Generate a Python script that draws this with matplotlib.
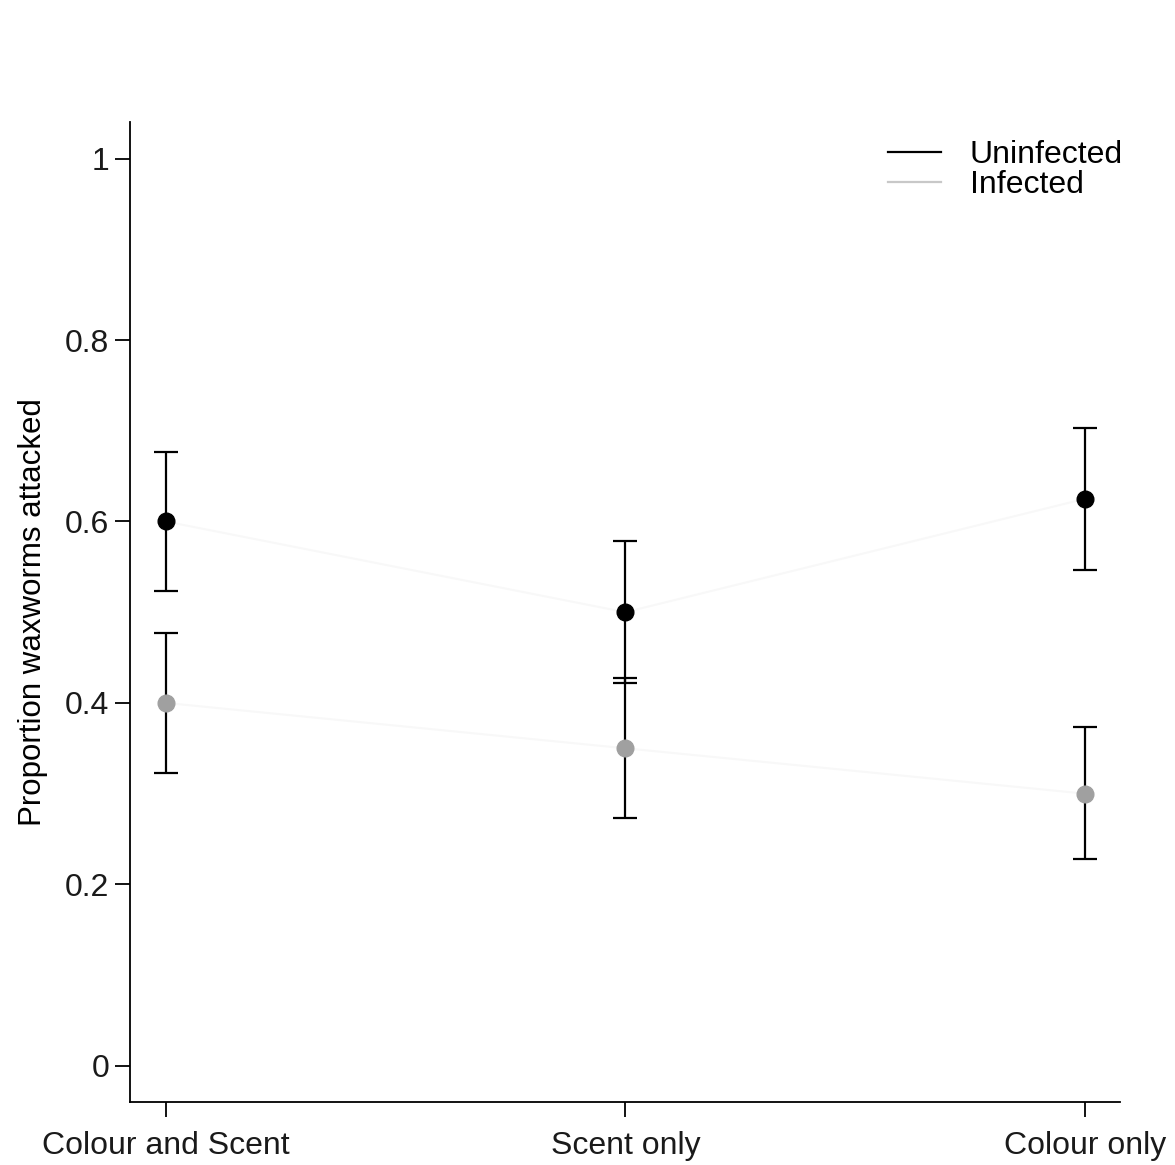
import matplotlib
matplotlib.use("Agg")
import matplotlib.pyplot as plt
from matplotlib.lines import Line2D

plt.rcParams["font.family"] = ["Liberation Sans", "DejaVu Sans"]

treatments = ["Colour and Scent", "Scent only", "Colour only"]
uninfected = [0.600, 0.500, 0.625]
uninfected_lo = [0.523, 0.422, 0.547]
uninfected_hi = [0.677, 0.578, 0.703]
infected = [0.400, 0.350, 0.300]
infected_lo = [0.323, 0.273, 0.228]
infected_hi = [0.477, 0.427, 0.373]
y_ticks = [0, 0.2, 0.4, 0.6, 0.8, 1]
y_tick_labels = ["0", "0.2", "0.4", "0.6", "0.8", "1"]


def draw(ax, x, mean, lo, hi, color):
    err = [[m - l for m, l in zip(mean, lo)], [h - m for m, h in zip(mean, hi)]]
    # connecting line is nearly invisible in the original
    ax.plot(x, mean, color="#f8f8f8", lw=1.5, zorder=1)
    ax.errorbar(x, mean, yerr=err, fmt="none", ecolor="black", elinewidth=1.6,
                capsize=8.5, capthick=1.6, zorder=2)
    ax.plot(x, mean, "o", color=color, markersize=12, zorder=3)


fig = plt.figure(figsize=(11.75, 11.65), dpi=100)
ax = fig.add_axes([0.1106, 0.054, 0.8425, 0.841])

x = [1, 2, 3]
draw(ax, x, uninfected, uninfected_lo, uninfected_hi, "black")
draw(ax, x, infected, infected_lo, infected_hi, "#a0a0a0")

ax.set_xlim(0.922, 3.076)
ax.set_ylim(-0.04, 1.04)
ax.set_xticks(x)
ax.set_xticklabels(treatments, fontsize=23, color="#1a1a1a")
ax.set_yticks(y_ticks)
ax.set_yticklabels(y_tick_labels, fontsize=23, color="#1a1a1a")
ax.tick_params(axis="both", direction="out", length=11, width=1.3)
ax.tick_params(axis="x", pad=10)
ax.tick_params(axis="y", pad=4)
ax.set_ylabel("Proportion waxworms attacked", fontsize=22.5, labelpad=12)

for side in ["top", "right"]:
    ax.spines[side].set_visible(False)
for side in ["left", "bottom"]:
    ax.spines[side].set_linewidth(1.3)

handles = [Line2D([], [], color="black", lw=1.6),
           Line2D([], [], color="#c8c8c8", lw=1.6)]
ax.legend(handles, ["Uninfected", "Infected"], loc="upper right",
          bbox_to_anchor=(1.032, 1.011), frameon=False, fontsize=23,
          handlelength=1.65, labelspacing=0.0, handletextpad=0.9)

fig.savefig("out.png", dpi=100, facecolor="white")
